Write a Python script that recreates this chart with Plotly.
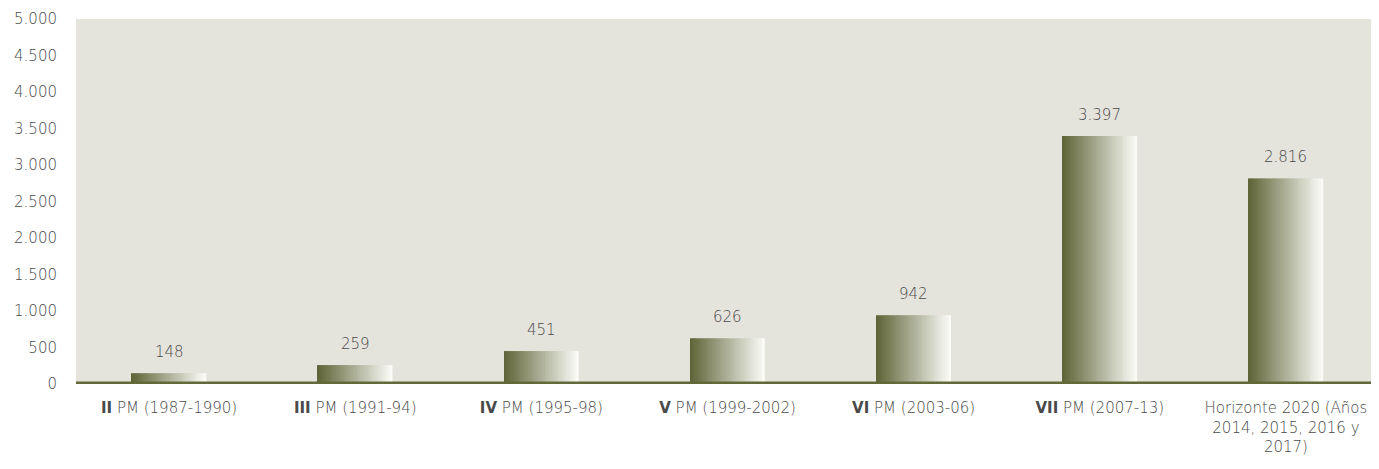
import plotly.graph_objects as go

categories = ["II PM", "III PM", "IV PM", "V PM", "VI PM", "VII PM", "H2020"]
tick_labels = [
    "<b>II</b> PM (1987-1990)",
    "<b>III</b> PM (1991-94)",
    "<b>IV</b> PM (1995-98)",
    "<b>V</b> PM (1999-2002)",
    "<b>VI</b> PM (2003-06)",
    "<b>VII</b> PM (2007-13)",
    "Horizonte 2020 (Años<br>2014, 2015, 2016 y<br>2017)",
]
values = [148, 259, 451, 626, 942, 3397, 2816]
y_ticks = [0, 500, 1000, 1500, 2000, 2500, 3000, 3500, 4000, 4500, 5000]

OLIVE = (95, 101, 56)
LIGHT = (250, 250, 246)
BG = "#e4e3dc"
TEXT = "#4a4a4a"
FONT = "DejaVu Sans"

fig = go.Figure()

# bars are faked as thin slices to get the left-to-right gradient
n_slices = 40
bar_w = 0.40
for i in range(n_slices):
    t = i / (n_slices - 1)
    c = tuple(round(a + (b - a) * t) for a, b in zip(OLIVE, LIGHT))
    fig.add_trace(go.Bar(
        x=categories,
        y=values,
        width=bar_w / n_slices * 1.05,
        offset=-bar_w / 2 + i * bar_w / n_slices,
        marker=dict(color=f"rgb{c}", line=dict(width=0)),
        showlegend=False,
        hoverinfo="skip",
    ))

# value labels above bars
for cat, v in zip(categories, values):
    fig.add_annotation(
        x=cat, y=v, text=f"{v:,}".replace(",", "."),
        showarrow=False, yshift=21, yanchor="middle",
        font=dict(family=FONT, size=15, color=TEXT, weight=300),
    )

fig.add_shape(
    type="line", xref="paper", yref="y",
    x0=0, x1=1, y0=0, y1=0,
    line=dict(color="rgb(99,105,57)", width=5),
    layer="above",
)

# page body has an 8px margin, so margins are shifted to compensate
fig.update_layout(
    width=1379,
    height=469,
    barmode="overlay",
    separators=",.",
    paper_bgcolor="white",
    plot_bgcolor=BG,
    margin=dict(l=68, r=8, t=11, b=93),
    font=dict(family=FONT, size=15, color=TEXT, weight=300),
    xaxis=dict(
        tickmode="array",
        tickvals=categories,
        ticktext=tick_labels,
        showgrid=False,
        zeroline=False,
        automargin=False,
        tickfont=dict(family=FONT, size=15, color=TEXT, weight=300),
        ticklabelstandoff=13,
    ),
    yaxis=dict(
        range=[0, 5000],
        tickvals=y_ticks,
        tickformat=",.0f",
        showgrid=False,
        zeroline=False,
        automargin=False,
        tickfont=dict(family=FONT, size=15, color=TEXT, weight=300),
        ticklabelstandoff=18,
    ),
)

fig.write_html("out.html")
